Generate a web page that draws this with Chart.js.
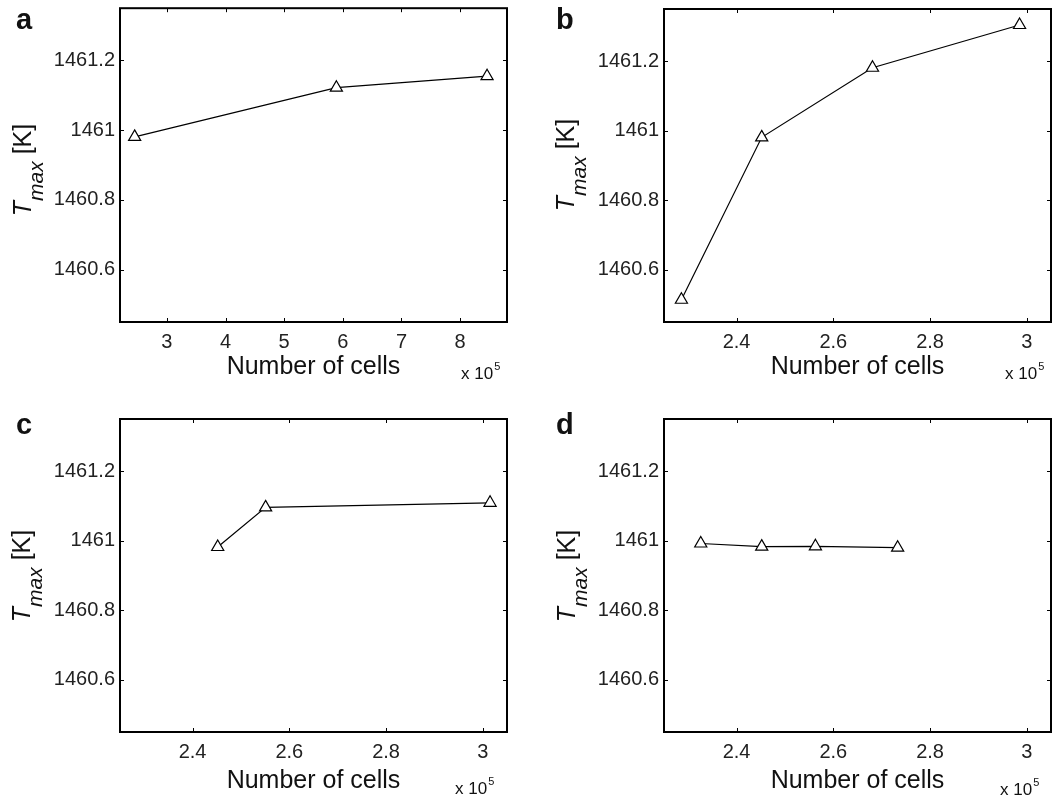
<!DOCTYPE html>
<html>
<head>
<meta charset="utf-8">
<script src="https://cdn.jsdelivr.net/npm/chart.js@4"></script>
<style>
  body { margin: 0; background: #fff; width: 1060px; height: 801px; position: relative; overflow: hidden;
         font-family: "Liberation Sans", Arial, sans-serif; color: #111; }
  .panel { position: absolute; width: 530px; height: 400px; }
  .letter { position: absolute; font-size: 29px; font-weight: bold; line-height: 1; }
  .ytitle { position: absolute; width: 160px; height: 30px; line-height: 30px; font-size: 25px;
            text-align: center; white-space: nowrap; transform: rotate(-90deg); }
  .ytitle .sub { font-size: 21px; font-style: italic; position: relative; top: 12px; line-height: 1; }
  .mult { position: absolute; font-size: 17px; line-height: 1; white-space: nowrap; }
  .mult .sup { font-size: 11px; position: relative; top: -9px; margin-left: 1px; }
</style>
</head>
<body>

<div class="panel" style="left:0;top:0"><canvas id="chartA" width="530" height="400"></canvas></div>
<div class="panel" style="left:530px;top:0"><canvas id="chartB" width="530" height="400"></canvas></div>
<div class="panel" style="left:0;top:400px"><canvas id="chartC" width="530" height="400"></canvas></div>
<div class="panel" style="left:530px;top:400px"><canvas id="chartD" width="530" height="400"></canvas></div>

<div class="letter" style="left:16px;top:5px">a</div>
<div class="letter" style="left:556px;top:5px">b</div>
<div class="letter" style="left:16px;top:410px">c</div>
<div class="letter" style="left:556px;top:410px">d</div>

<div class="ytitle" style="left:-58px;top:155px"><i>T</i><span class="sub">max</span> [K]</div>
<div class="ytitle" style="left:485px;top:150px"><i>T</i><span class="sub">max</span> [K]</div>
<div class="ytitle" style="left:-59px;top:561px"><i>T</i><span class="sub">max</span> [K]</div>
<div class="ytitle" style="left:486px;top:561px"><i>T</i><span class="sub">max</span> [K]</div>

<div class="mult" style="left:461px;top:365px">x 10<span class="sup">5</span></div>
<div class="mult" style="left:1005px;top:365px">x 10<span class="sup">5</span></div>
<div class="mult" style="left:455px;top:780px">x 10<span class="sup">5</span></div>
<div class="mult" style="left:1000px;top:781px">x 10<span class="sup">5</span></div>

<script>
// number of cells in units of 10^5, max temperature in K
const cellsA = [2.45, 5.89, 8.46];
const tmaxA = [1460.981, 1461.122, 1461.155];

const cellsB = [2.286, 2.452, 2.681, 2.985];
const tmaxB = [1460.514, 1460.981, 1461.181, 1461.304];

const cellsC = [2.452, 2.551, 3.015];
const tmaxC = [1460.982, 1461.096, 1461.109];

const cellsD = [2.326, 2.452, 2.563, 2.733];
const tmaxD = [1460.992, 1460.983, 1460.984, 1460.980];

const xTicksA = [3, 4, 5, 6, 7, 8];
const xTicksB = [2.4, 2.6, 2.8, 3];
const yTicks = [1460.6, 1460.8, 1461, 1461.2];

Chart.defaults.font.family = '"Liberation Sans", Arial, sans-serif';

const fmt = v => String(Number(v.toFixed(1)));

// box + inward ticks like the matlab axes
const frame = {
  id: 'frame',
  afterDraw(chart) {
    const { ctx, chartArea: a, scales: { x, y } } = chart;
    ctx.save();
    ctx.strokeStyle = '#000';
    ctx.lineWidth = 1;
    ctx.beginPath();
    x.ticks.forEach(t => {
      const px = Math.round(x.getPixelForValue(t.value)) + 0.5;
      ctx.moveTo(px, a.bottom); ctx.lineTo(px, a.bottom - 4);
      ctx.moveTo(px, a.top); ctx.lineTo(px, a.top + 4);
    });
    y.ticks.forEach(t => {
      const py = Math.round(y.getPixelForValue(t.value)) + 0.5;
      ctx.moveTo(a.left, py); ctx.lineTo(a.left + 4, py);
      ctx.moveTo(a.right, py); ctx.lineTo(a.right - 4, py);
    });
    ctx.stroke();
    ctx.lineWidth = 2;
    ctx.strokeRect(a.left, a.top, a.right - a.left, a.bottom - a.top);
    ctx.restore();
  }
};

function makePanel(id, cells, tmax, xMin, xMax, xTicks, box) {
  new Chart(document.getElementById(id), {
    type: 'scatter',
    data: {
      datasets: [{
        data: cells.map((c, i) => ({ x: c, y: tmax[i] })),
        showLine: true,
        borderColor: '#000',
        borderWidth: 1.2,
        pointStyle: 'triangle',
        pointRadius: 7,
        pointHoverRadius: 7,
        pointBackgroundColor: '#fff',
        pointBorderColor: '#000',
        pointBorderWidth: 1.2
      }]
    },
    options: {
      responsive: false,
      animation: false,
      events: [],
      layout: { padding: { top: box.top, right: box.right, left: 0, bottom: 0 } },
      plugins: { legend: { display: false }, tooltip: { enabled: false } },
      scales: {
        x: {
          type: 'linear',
          min: xMin,
          max: xMax,
          grid: { display: false, drawTicks: false },
          border: { display: false },
          afterBuildTicks: s => { s.ticks = xTicks.map(v => ({ value: v })); },
          afterFit: s => { s.height = box.xh; s.paddingLeft = 0; s.paddingRight = 0; },
          ticks: { autoSkip: false, maxRotation: 0, minRotation: 0, padding: 8, color: '#222',
                   font: { size: 20 }, callback: v => fmt(v) },
          title: { display: true, text: 'Number of cells', color: '#111', font: { size: 25 },
                   padding: { top: 0, bottom: box.tb } }
        },
        y: {
          min: 1460.45,
          max: 1461.35,
          grid: { display: false, drawTicks: false },
          border: { display: false },
          afterBuildTicks: s => { s.ticks = yTicks.map(v => ({ value: v })); },
          afterFit: s => { s.width = box.yw; s.paddingTop = 0; s.paddingBottom = 0; },
          ticks: { autoSkip: false, padding: 5, color: '#222', font: { size: 20 }, callback: v => fmt(v) }
        }
      }
    },
    plugins: [frame]
  });
}

makePanel('chartA', cellsA, tmaxA, 2.2, 8.8, xTicksA, { top: 7, right: 23, yw: 120, xh: 78, tb: 18 });
makePanel('chartB', cellsB, tmaxB, 2.25, 3.05, xTicksB, { top: 9, right: 9, yw: 134, xh: 78, tb: 18 });
makePanel('chartC', cellsC, tmaxC, 2.25, 3.05, xTicksB, { top: 19, right: 23, yw: 120, xh: 68, tb: 4 });
makePanel('chartD', cellsD, tmaxD, 2.25, 3.05, xTicksB, { top: 19, right: 9, yw: 134, xh: 68, tb: 4 });
</script>
</body>
</html>
